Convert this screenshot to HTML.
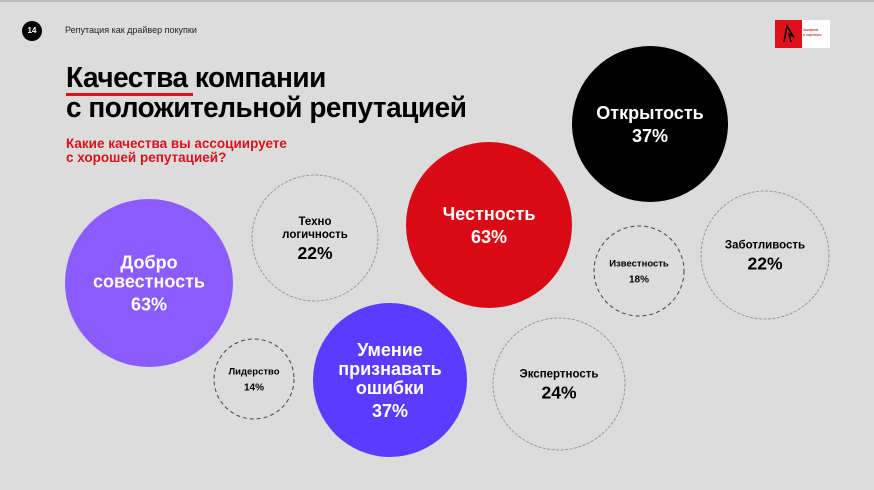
<!DOCTYPE html>
<html><head><meta charset="utf-8">
<style>
html,body{margin:0;padding:0}
body{width:874px;height:490px;background:#dcdcdc;position:relative;overflow:hidden;font-family:"Liberation Sans",sans-serif}
.hdr{position:absolute;font-family:"Liberation Sans Narrow","Liberation Sans",sans-serif}
</style></head>
<body>
<div style="position:absolute;left:0;top:0;width:874px;height:2px;background:#bdbdbd"></div>
<div style="position:absolute;left:22px;top:21px;width:20px;height:20px;border-radius:50%;background:#000;color:#fff;font-size:8px;font-weight:bold;text-align:center;line-height:20px">14</div>
<div class="hdr" style="left:65px;top:25px;font-size:9px;color:#222">Репутация как драйвер покупки</div>
<div style="position:absolute;left:775px;top:20px;width:55px;height:28px;background:#fff">
<div style="position:absolute;left:0;top:0;width:27px;height:28px;background:#e0101a"></div>
<svg width="27" height="28" style="position:absolute;left:0;top:0"><path d="M9 22 L12 6 L18 16 L14 14 L16 22" stroke="#000" stroke-width="1.5" fill="none"/></svg>
<div style="position:absolute;left:28px;top:8px;font-size:3.5px;line-height:5px;color:#a00">Ашманов<br>и партнеры</div>
</div>
<div style="position:absolute;left:66px;top:63px;font-size:29px;line-height:30px;font-weight:bold;color:#000;font-family:'Liberation Sans',sans-serif;letter-spacing:-0.5px;transform:scaleX(0.965);transform-origin:0 0;white-space:nowrap">Качества компании<br>с положительной репутацией</div>
<div style="position:absolute;left:66px;top:93px;width:127px;height:3px;background:#d9121b"></div>
<div style="position:absolute;left:66px;top:137px;font-size:13.5px;line-height:14px;font-weight:bold;color:#d9121b">Какие качества вы ассоциируете<br>с хорошей репутацией?</div>
<svg id="chart" width="874" height="490" style="position:absolute;left:0;top:0"></svg>
<script>
const labels=["Открытость","Честность","Добро\nсовестность","Техно\nлогичность","Умение\nпризнавать\nошибки","Лидерство","Экспертность","Известность","Заботливость"];
const values=[37,63,63,22,37,14,24,18,22];
const styles=["black","red","violet","outline","indigo","dashed","outline","dashed","outline"];
const layout=[[650,124,78],[489,225,83],[149,283,84],[315,238,63],[390,380,77],[254,379,40],[559,384,66],[639,271,45],[765,255,64]];
const fills={black:"#000",red:"#d90a16",violet:"#8a5cff",indigo:"#5a3bff",outline:"none",dashed:"none"};
const ns="http://www.w3.org/2000/svg";
const svg=document.getElementById('chart');
labels.forEach((lab,i)=>{
  const [cx,cy,r]=layout[i];const st=styles[i];
  const g=document.createElementNS(ns,'g');
  
  
  const c=document.createElementNS(ns,'circle');
  c.setAttribute('cx',cx);c.setAttribute('cy',cy);c.setAttribute('r',r);
  c.setAttribute('fill',fills[st]);
  if(st==='outline'){c.setAttribute('stroke','#8a8a8a');c.setAttribute('stroke-width','0.8');c.setAttribute('stroke-dasharray','3 1.5');}
  if(st==='dashed'){c.setAttribute('stroke','#444');c.setAttribute('stroke-width','1');c.setAttribute('stroke-dasharray','4 3');}
  g.appendChild(c);
  const filled=fills[st]!=='none';
  const color=filled?'#fff':'#000';
  const small=st==='dashed';
  const big=filled;
  const lines=lab.split('\n');
  const lf=small?9.5:(big?18:11.5);
  const pf=small?10:(big?18:17.5);
  const lh=small?12:(big?19:13);
  const gap=small?16:(big?23:21);
  const total=(lines.length-1)*lh+gap;
  let y=cy-total/2+lf*0.35;
  lines.forEach((ln,k)=>{
    const t=document.createElementNS(ns,'text');
    t.setAttribute('x',cx);t.setAttribute('y',y+k*lh);
    t.setAttribute('text-anchor','middle');t.setAttribute('font-size',lf);
    t.setAttribute('font-weight','bold');t.setAttribute('fill',color);
    t.setAttribute('font-family','Liberation Sans, sans-serif');
    
    
    t.textContent=ln;g.appendChild(t);
  });
  const p=document.createElementNS(ns,'text');
  p.setAttribute('x',cx);p.setAttribute('y',y+(lines.length-1)*lh+gap);
  p.setAttribute('text-anchor','middle');p.setAttribute('font-size',pf);
  p.setAttribute('font-weight','bold');p.setAttribute('fill',color);
  p.setAttribute('font-family','Liberation Sans, sans-serif');
  
  
  p.textContent=values[i]+'%';g.appendChild(p);
  svg.appendChild(g);
});
</script>
</body></html>
